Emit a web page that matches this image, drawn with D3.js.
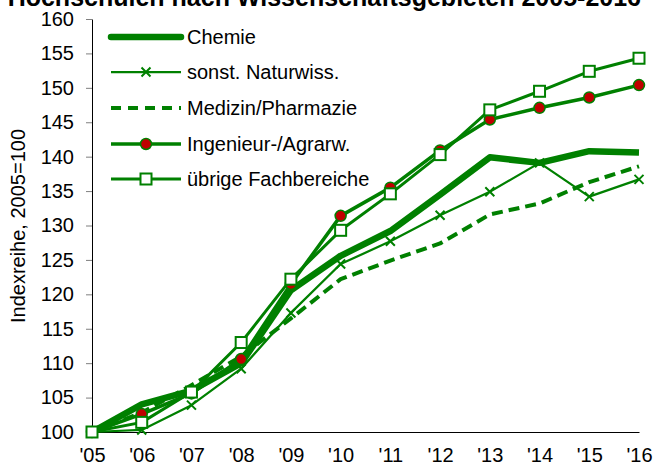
<!DOCTYPE html>
<html>
<head>
<meta charset="utf-8">
<script src="https://cdn.jsdelivr.net/npm/d3@7"></script>
<style>
  body { margin: 0; background: #fff; }
  text { font-family: "Liberation Sans", Arial, sans-serif; fill: #000; }
</style>
</head>
<body>
<script>
const w = 654;
const h = 466;

const years = ["'05", "'06", "'07", "'08", "'09", "'10", "'11", "'12", "'13", "'14", "'15", "'16"];
const yTicks = [100, 105, 110, 115, 120, 125, 130, 135, 140, 145, 150, 155, 160];

const chemie     = [100, 104.0, 106.0, 110.0, 120.6, 125.6, 129.2, 134.5, 139.9, 139.1, 140.8, 140.6];
const naturwiss  = [100, 100.3, 103.9, 109.2, 117.3, 124.4, 127.7, 131.5, 134.9, 139.1, 134.2, 136.7];
const medizin    = [100, 102.8, 106.8, 111.0, 116.5, 122.2, 124.9, 127.4, 131.6, 133.2, 136.3, 138.6];
const ingenieur  = [100, 102.6, 105.6, 110.6, 121.5, 131.4, 135.5, 140.9, 145.4, 147.1, 148.6, 150.4];
const uebrige    = [100, 101.4, 105.8, 113.0, 122.2, 129.3, 134.6, 140.3, 146.8, 149.5, 152.4, 154.3];

const green = '#008000';
const red = '#c00000';

const series = [
  {name: 'Chemie', values: chemie, width: 6.5, dash: null, marker: null},
  {name: 'sonst. Naturwiss.', values: naturwiss, width: 2.25, dash: null, marker: 'x'},
  {name: 'Medizin/Pharmazie', values: medizin, width: 4, dash: '11,6', marker: null},
  {name: 'Ingenieur-/Agrarw.', values: ingenieur, width: 3.5, dash: null, marker: 'dot'},
  {name: 'übrige Fachbereiche', values: uebrige, width: 3, dash: null, marker: 'square'}
];

const svg = d3.select('body')
  .append('svg')
  .attr('width', w)
  .attr('height', h);

// title, cut off at the top edge as in the source picture
svg.append('text')
  .attr('x', 641)
  .attr('y', 6)
  .attr('text-anchor', 'end')
  .style('font-size', '25px')
  .style('font-weight', 'bold')
  .text('Hochschulen nach Wissenschaftsgebieten 2005-2016');

const xScale = d3.scalePoint()
  .domain(years)
  .range([92, 639]);

const yScale = d3.scaleLinear()
  .domain([100, 160])
  .range([432, 19]);

const yAxis = d3.axisLeft(yScale)
  .tickValues(yTicks)
  .tickSize(6)
  .tickPadding(12)
  .tickSizeOuter(0);

const yG = svg.append('g')
  .attr('transform', 'translate(92, 0)')
  .call(yAxis);
yG.selectAll('text').style('font-size', '20px').style('font-family', '"Liberation Sans", Arial, sans-serif');
yG.selectAll('line, path').attr('stroke', '#000');
yG.selectAll('line').attr('stroke', '#7f7f7f');

const xAxis = d3.axisBottom(xScale)
  .tickSize(0)
  .tickPadding(16)
  .tickSizeOuter(0);

const xG = svg.append('g')
  .attr('transform', 'translate(0, 432)')
  .call(xAxis);
xG.selectAll('text').style('font-size', '20px').style('font-family', '"Liberation Sans", Arial, sans-serif');
xG.select('path').attr('stroke', '#000');

svg.append('text')
  .attr('transform', 'translate(25, 226) rotate(-90)')
  .attr('text-anchor', 'middle')
  .style('font-size', '20px')
  .text('Indexreihe, 2005=100');

const line = d3.line()
  .x((d, i) => xScale(years[i]))
  .y((d) => yScale(d));

function drawMarker(g, type, x, y) {
  if (type === 'x') {
    g.append('path')
      .attr('d', `M${x - 4.5},${y - 4.5}L${x + 4.5},${y + 4.5}M${x - 4.5},${y + 4.5}L${x + 4.5},${y - 4.5}`)
      .attr('stroke', green)
      .attr('stroke-width', 2);
  } else if (type === 'dot') {
    g.append('circle')
      .attr('cx', x)
      .attr('cy', y)
      .attr('r', 5.5)
      .attr('fill', red)
      .attr('stroke', green)
      .attr('stroke-width', 1.5);
  } else if (type === 'square') {
    g.append('rect')
      .attr('x', x - 5.5)
      .attr('y', y - 5.5)
      .attr('width', 11)
      .attr('height', 11)
      .attr('fill', '#fff')
      .attr('stroke', green)
      .attr('stroke-width', 2);
  }
}

series.forEach((s) => {
  const g = svg.append('g');
  g.append('path')
    .datum(s.values)
    .attr('d', line)
    .attr('fill', 'none')
    .attr('stroke', green)
    .attr('stroke-width', s.width)
    .attr('stroke-dasharray', s.dash)
    .attr('stroke-linejoin', 'round');
  if (s.marker) {
    s.values.forEach((v, i) => drawMarker(g, s.marker, xScale(years[i]), yScale(v)));
  }
});

// legend
const legendY = [37, 72, 108, 144, 179];
series.forEach((s, i) => {
  const g = svg.append('g');
  g.append('line')
    .attr('x1', 111)
    .attr('x2', 181)
    .attr('y1', legendY[i])
    .attr('y2', legendY[i])
    .attr('stroke', green)
    .attr('stroke-width', s.width)
    .attr('stroke-dasharray', s.dash ? '10,7' : null)
    .attr('stroke-linecap', s.width > 5 ? 'round' : 'butt');
  if (s.marker) drawMarker(g, s.marker, 146, legendY[i]);
  g.append('text')
    .attr('x', 187)
    .attr('y', legendY[i] + 7)
    .style('font-size', '20px')
    .text(s.name);
});
</script>
</body>
</html>
